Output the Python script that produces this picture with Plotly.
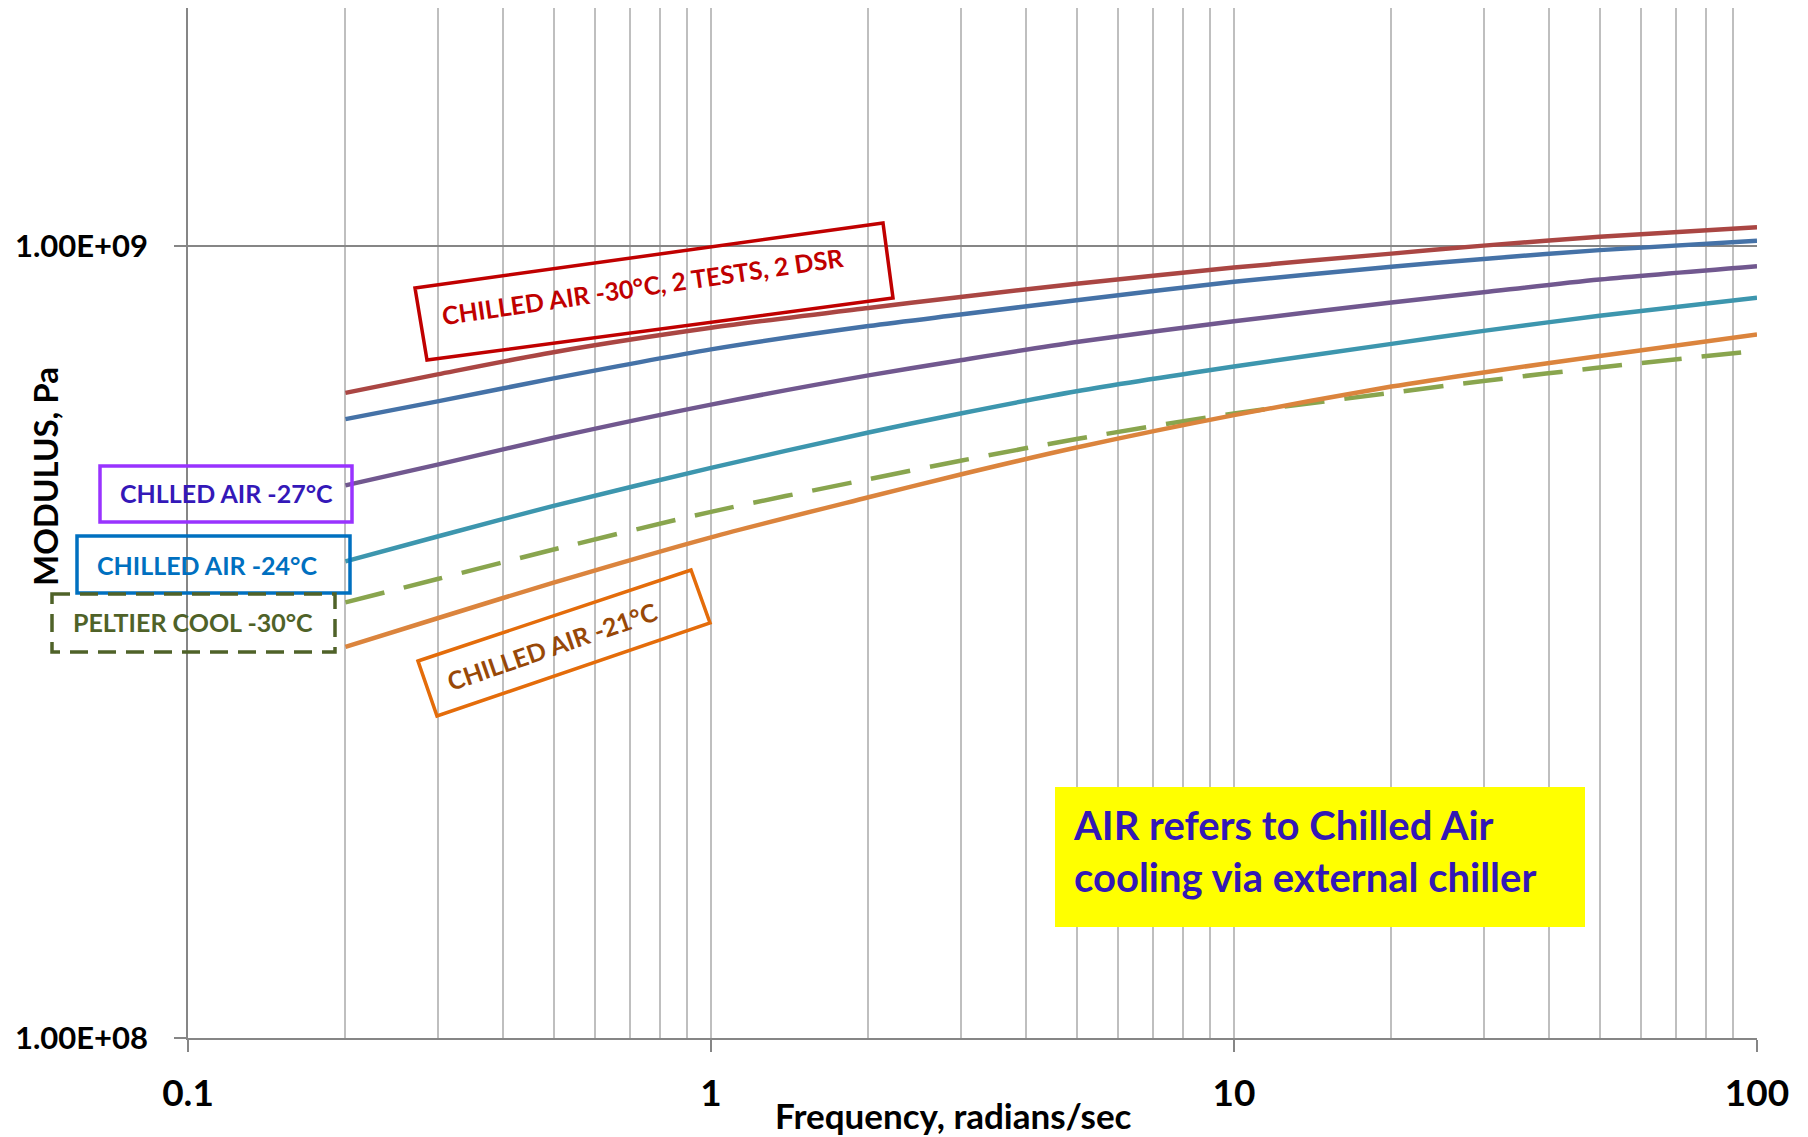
import plotly.graph_objects as go

# ---------------- data ----------------
freq = [0.2, 0.3, 0.5, 1, 2, 3, 5, 10, 20, 30, 50, 100]

air_m30_test1 = [6.53e8, 6.89e8, 7.35e8, 7.89e8, 8.36e8, 8.63e8, 8.97e8, 9.40e8, 9.79e8, 1.002e9, 1.028e9, 1.057e9]
air_m30_test2 = [6.05e8, 6.37e8, 6.81e8, 7.41e8, 7.93e8, 8.20e8, 8.55e8, 9.02e8, 9.42e8, 9.64e8, 9.89e8, 1.016e9]
air_m27 = [4.99e8, 5.30e8, 5.73e8, 6.31e8, 6.87e8, 7.18e8, 7.57e8, 8.04e8, 8.49e8, 8.75e8, 9.08e8, 9.44e8]
air_m24 = [4.00e8, 4.30e8, 4.70e8, 5.25e8, 5.82e8, 6.15e8, 6.56e8, 7.05e8, 7.53e8, 7.82e8, 8.17e8, 8.61e8]
peltier_m30 = [3.55e8, 3.80e8, 4.14e8, 4.62e8, 5.08e8, 5.36e8, 5.71e8, 6.15e8, 6.53e8, 6.76e8, 7.03e8, 7.38e8]
air_m21 = [3.12e8, 3.39e8, 3.76e8, 4.29e8, 4.82e8, 5.15e8, 5.57e8, 6.12e8, 6.65e8, 6.93e8, 7.27e8, 7.74e8]

x_tickvals = [0.1, 1, 10, 100]
x_ticktext = ["0.1", "1", "10", "100"]
x_minorvals = [0.2, 0.3, 0.4, 0.5, 0.6, 0.7, 0.8, 0.9,
               2, 3, 4, 5, 6, 7, 8, 9,
               20, 30, 40, 50, 60, 70, 80, 90]
y_tickvals = [1e8, 1e9]
y_ticktext = ["1.00E+08", "1.00E+09"]
y_max = 2e9

x_title = "Frequency, radians/sec"
y_title = "MODULUS, Pa"
note_text = "AIR refers to Chilled Air<br>cooling via external chiller"

# ---------------- layout geometry ----------------
W, H = 1808, 1137
L, R, T, B = 188, 1757, 8, 1038
FONT = "Lato"


def px(x):
    return (x - L) / (R - L)


def py(y):
    return (B - y) / (B - T)


def path(points):
    return "M " + " L ".join(f"{px(a):.5f},{py(b):.5f}" for a, b in points) + " Z"


series = [
    (air_m30_test1, "Chilled Air -30°C (test 1)", "#AA4643", None),
    (air_m30_test2, "Chilled Air -30°C (test 2)", "#4572A7", None),
    (air_m27, "Chilled Air -27°C", "#71588F", None),
    (air_m24, "Chilled Air -24°C", "#3D96AE", None),
    (peltier_m30, "Peltier Cool -30°C", "#89A54E", "40px,20px"),
    (air_m21, "Chilled Air -21°C", "#DB843D", None),
]

fig = go.Figure()
for vals, name, color, dash in series:
    fig.add_trace(go.Scatter(
        x=freq, y=vals, mode="lines", name=name,
        line=dict(color=color, width=4.5, dash=dash, shape="spline", smoothing=0.8),
        showlegend=False,
    ))

axis_grey = "#868686"
grid_grey = "#BFBFBF"

fig.update_xaxes(
    type="log", range=[-1, 2],
    tickmode="array", tickvals=x_tickvals, ticktext=x_ticktext,
    tickfont=dict(family=FONT, size=37, color="black", weight="bold"),
    ticks="outside", ticklen=12, tickwidth=1.5, tickcolor=axis_grey,
    ticklabelstandoff=10,
    showgrid=True, gridcolor=grid_grey, gridwidth=1.5,
    minor=dict(tickmode="array", tickvals=x_minorvals, showgrid=True,
               gridcolor=grid_grey, gridwidth=1.5, ticks=""),
    showline=True, linecolor=axis_grey, linewidth=1.5,
    zeroline=False,
)
fig.update_yaxes(
    type="log", range=[8, 9.30103],
    tickmode="array", tickvals=y_tickvals, ticktext=y_ticktext,
    tickfont=dict(family=FONT, size=31, color="black", weight="bold"),
    ticks="outside", ticklen=12, tickwidth=1.5, tickcolor=axis_grey,
    ticklabelstandoff=20,
    showgrid=True, gridcolor=axis_grey, gridwidth=1.5,
    showline=True, linecolor=axis_grey, linewidth=1.5,
    zeroline=False,
)

shapes = []
annotations = []

# rotated red box
shapes.append(dict(type="path", xref="paper", yref="paper",
                   path=path([(415, 288), (883, 223), (893, 298), (427, 360)]),
                   line=dict(color="#C00000", width=3.5)))
annotations.append(dict(text="CHILLED AIR -30°C, 2 TESTS, 2 DSR", x=px(643), y=py(286),
                        textangle=-8.3,
                        font=dict(family=FONT, size=25, color="#C00000", weight="bold")))

# rotated orange box
shapes.append(dict(type="path", xref="paper", yref="paper",
                   path=path([(418, 661), (691, 570), (710, 623), (437, 716)]),
                   line=dict(color="#E46C0A", width=3.5)))
annotations.append(dict(text="CHILLED AIR -21°C", x=px(552), y=py(646),
                        textangle=-19,
                        font=dict(family=FONT, size=25, color="#984807", weight="bold")))

# purple box
shapes.append(dict(type="rect", xref="paper", yref="paper",
                   x0=px(100), x1=px(352), y0=py(466), y1=py(522),
                   line=dict(color="#9933FF", width=3.5)))
annotations.append(dict(text="CHLLED AIR -27°C", x=px(226), y=py(493),
                        font=dict(family=FONT, size=25, color="#3418B8", weight="bold")))

# blue box
shapes.append(dict(type="rect", xref="paper", yref="paper",
                   x0=px(77), x1=px(350), y0=py(536), y1=py(593),
                   line=dict(color="#0070C0", width=3.5)))
annotations.append(dict(text="CHILLED AIR -24°C", x=px(207), y=py(565),
                        font=dict(family=FONT, size=25, color="#0070C0", weight="bold")))

# green dashed box
shapes.append(dict(type="rect", xref="paper", yref="paper",
                   x0=px(52), x1=px(335), y0=py(594), y1=py(652),
                   line=dict(color="#4F6228", width=3.5, dash="18px,10px")))
annotations.append(dict(text="PELTIER COOL -30°C", x=px(193), y=py(622),
                        font=dict(family=FONT, size=25, color="#4F6228", weight="bold")))

# yellow note
shapes.append(dict(type="rect", xref="paper", yref="paper",
                   x0=px(1055), x1=px(1585), y0=py(787), y1=py(927),
                   fillcolor="#FFFF00", line=dict(width=0), layer="above"))
annotations.append(dict(text=note_text, x=px(1071), y=py(851), xanchor="left",
                        align="left",
                        font=dict(family=FONT, size=40, color="#3318B5", weight="bold")))

# axis titles
annotations.append(dict(text=x_title, x=px(953), y=py(1115),
                        font=dict(family=FONT, size=35, color="black", weight="bold")))
annotations.append(dict(text=y_title, x=px(45), y=py(477), textangle=-90,
                        font=dict(family=FONT, size=33, color="black", weight="bold")))

for a in annotations:
    a.setdefault("xref", "paper")
    a.setdefault("yref", "paper")
    a.setdefault("showarrow", False)
    a.setdefault("xanchor", "center")
    a.setdefault("yanchor", "middle")

fig.update_layout(
    width=W, height=H, autosize=False,
    margin=dict(l=L, r=W - R, t=T, b=H - B, pad=0),
    paper_bgcolor="white", plot_bgcolor="white",
    shapes=shapes, annotations=annotations,
    font=dict(family=FONT),
)

fig.write_html("out.html")
